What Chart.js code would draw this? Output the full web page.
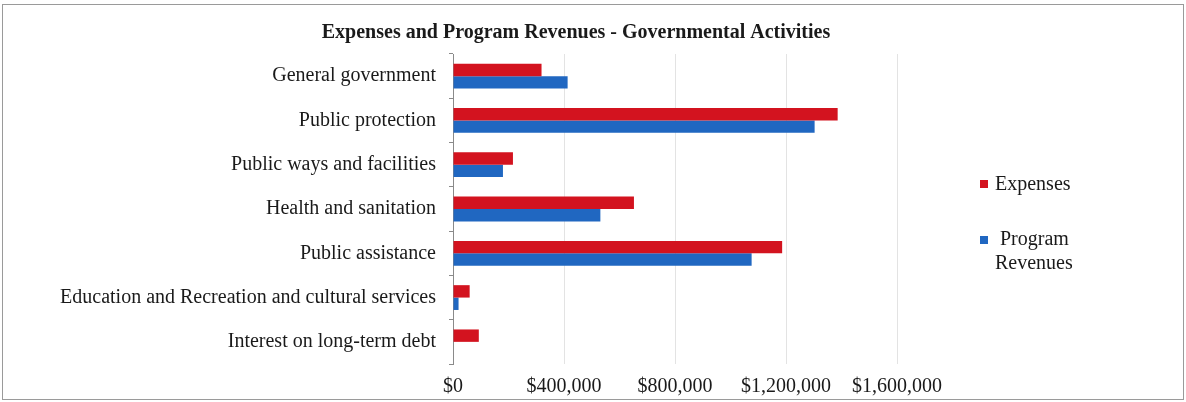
<!DOCTYPE html>
<html>
    <head>
        <style>
            html, body { margin: 0; padding: 0; background: #ffffff; }
            #chart-container { position: relative; width: 1186px; height: 402px; }
        </style>
    </head>
    <body>
        <div id="chart-container">
            <canvas id="chart"></canvas>
        </div>
    </body>
    <script src="https://cdn.jsdelivr.net/npm/chart.js"></script>
    <script>
        const categories = [
            "General government",
            "Public protection",
            "Public ways and facilities",
            "Health and sanitation",
            "Public assistance",
            "Education and Recreation and cultural services",
            "Interest on long-term debt"
        ];
        const expenses = [319000, 1386000, 216000, 652000, 1186000, 60000, 93000];
        const programRevenues = [413000, 1303000, 180000, 531000, 1076000, 20000, 0];
        const tickValues = [0, 400000, 800000, 1200000, 1600000];
        const titleText = "Expenses and Program Revenues - Governmental Activities";

        const serif = "'Liberation Serif', 'Times New Roman', serif";

        function money(v) {
            return "$" + v.toString().replace(/\B(?=(\d{3})+(?!\d))/g, ",");
        }

        // title, legend and outer frame are drawn by hand, the built-in ones don't wrap like Excel
        const decorations = {
            id: "decorations",
            afterDraw(chart) {
                const ctx = chart.ctx;
                ctx.save();
                ctx.strokeStyle = "#9a9a9a";
                ctx.lineWidth = 1;
                ctx.strokeRect(2.5, 4.5, chart.width - 5, chart.height - 7);

                ctx.fillStyle = "#1a1a1a";
                ctx.font = "bold 20px " + serif;
                ctx.textAlign = "center";
                ctx.textBaseline = "middle";
                ctx.fillText(titleText, 576, 33);

                ctx.font = "20px " + serif;
                ctx.textAlign = "left";
                const ds = chart.data.datasets;
                ctx.fillStyle = ds[0].backgroundColor;
                ctx.fillRect(980, 180, 8, 8);
                ctx.fillStyle = "#1a1a1a";
                ctx.fillText(ds[0].label, 995, 185);
                ctx.fillStyle = ds[1].backgroundColor;
                ctx.fillRect(980, 236, 8, 8);
                ctx.fillStyle = "#1a1a1a";
                ctx.fillText(ds[1].label[0], 1000, 240);
                ctx.fillText(ds[1].label[1], 995, 264);
                ctx.restore();
            }
        };

        const config = {
            type: "bar",
            data: {
                labels: categories,
                datasets: [
                    {
                        label: "Expenses",
                        data: expenses,
                        backgroundColor: "#d3131f",
                        barPercentage: 1.0,
                        categoryPercentage: 0.56
                    },
                    {
                        label: ["Program", "Revenues"],
                        data: programRevenues,
                        backgroundColor: "#2067c1",
                        barPercentage: 1.0,
                        categoryPercentage: 0.56
                    }
                ]
            },
            options: {
                indexAxis: "y",
                responsive: true,
                maintainAspectRatio: false,
                animation: false,
                layout: { padding: { top: 54, right: 239, bottom: 0, left: 0 } },
                plugins: {
                    legend: { display: false },
                    title: { display: false },
                    tooltip: { enabled: false }
                },
                scales: {
                    x: {
                        min: 0,
                        max: 1780000,
                        afterBuildTicks: (axis) => {
                            axis.ticks = tickValues.map(v => ({ value: v }));
                        },
                        afterFit: (axis) => { axis.height = 38; },
                        grid: { color: "#e3e3e3", drawTicks: false },
                        border: { display: false },
                        ticks: {
                            padding: 11,
                            color: "#1a1a1a",
                            font: { family: serif, size: 20 },
                            callback: (v) => money(v)
                        }
                    },
                    y: {
                        afterFit: (axis) => { axis.width = 453; },
                        grid: { drawOnChartArea: false, drawTicks: true, tickLength: 4, offset: true, color: "#8a8a8a" },
                        border: { display: true, color: "#8a8a8a" },
                        ticks: {
                            padding: 13,
                            color: "#1a1a1a",
                            font: { family: serif, size: 20 }
                        }
                    }
                }
            },
            plugins: [decorations]
        };

        const chart = new Chart(document.getElementById("chart"), config);
    </script>
</html>
